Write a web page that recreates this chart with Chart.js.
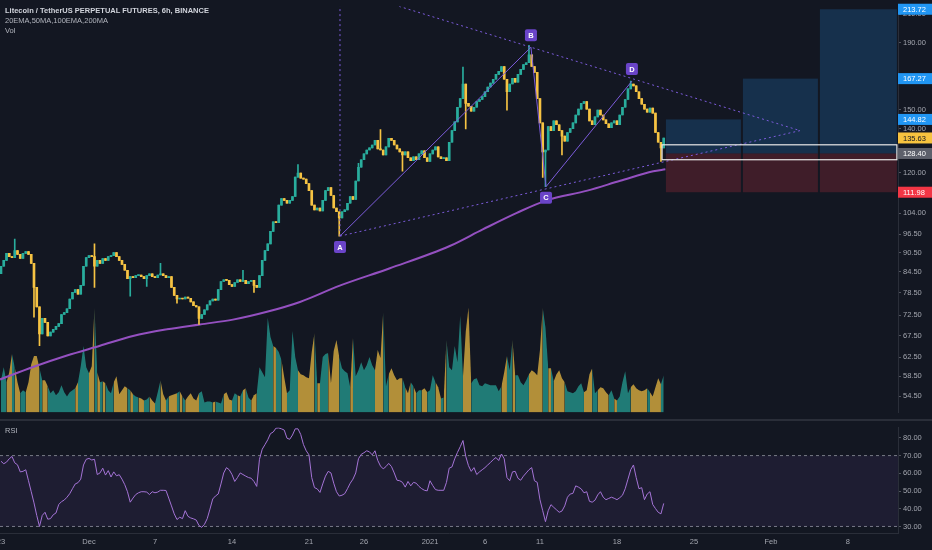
<!DOCTYPE html>
<html>
<head>
<meta charset="utf-8">
<script src="https://cdn.jsdelivr.net/npm/chart.js@4.4.1/dist/chart.umd.min.js"></script>
<style>
html, body { margin: 0; padding: 0; background: #131722; }
#wrap { position: relative; width: 932px; height: 550px; overflow: hidden; background: #131722; font-family: "Liberation Sans", Arial, sans-serif; }
#main { position: absolute; left: 0; top: 0; }
#rsi { position: absolute; left: 0; top: 421px; }
.sep { position: absolute; left: 0; top: 419px; width: 932px; height: 2px; background: #2a2e39; }
.lbl { position: absolute; left: 5px; font-size: 7.5px; line-height: 9px; color: #b2b5be; white-space: nowrap; }
</style>
</head>
<body>
<div id="wrap">
  <canvas id="main" width="932" height="419"></canvas>
  <div class="sep"></div>
  <canvas id="rsi" width="932" height="129"></canvas>
  <div class="lbl" style="top:5.5px;font-weight:bold;color:#d1d4dc">Litecoin / TetherUS PERPETUAL FUTURES, 6h, BINANCE</div>
  <div class="lbl" style="top:15.5px">20EMA,50MA,100EMA,200MA</div>
  <div class="lbl" style="top:25.5px">Vol</div>
  <div class="lbl" style="top:425.5px">RSI</div>
</div>
<script>
// x axis is in days since Nov 23, one candle every 6h
const tickDays = [0, 8, 14, 21, 28, 33, 39, 44, 49, 56, 63, 70, 77];
const tickLabels = ['23', 'Dec', '7', '14', '21', '26', '2021', '6', '11', '18', '25', 'Feb', '8'];
const priceTicks = [54.5, 58.5, 62.5, 67.5, 72.5, 78.5, 84.5, 90.5, 96.5, 104, 120, 140, 150, 190, 210];
const rsiTicks = [30, 40, 50, 60, 70, 80];

const firstOpen = 84.0;
const closes = [
  86.2, 88.0, 90.2, 89.2, 88.9, 91.1, 89.9, 88.6, 90.2, 90.8,
  89.9, 87.1, 80.0, 74.7, 67.9, 71.7, 70.7, 67.4, 68.3, 69.0,
  69.7, 70.4, 72.7, 73.2, 74.2, 76.8, 78.6, 79.4, 78.1, 80.6,
  86.2, 88.9, 89.5, 89.2, 86.2, 88.0, 87.1, 88.6, 88.0, 89.2,
  89.5, 90.5, 89.2, 88.0, 86.8, 85.0, 82.5, 83.1, 82.8, 83.4,
  83.6, 83.1, 82.5, 83.4, 83.9, 83.1, 82.8, 83.6, 83.9, 83.4,
  82.8, 83.1, 80.0, 77.8, 76.8, 77.0, 76.8, 77.3, 77.0, 76.0,
  75.0, 74.7, 71.7, 72.7, 73.9, 75.2, 76.3, 76.8, 76.5, 79.4,
  81.7, 82.2, 82.0, 80.8, 80.3, 81.4, 82.2, 81.7, 82.0, 81.1,
  81.7, 82.0, 80.6, 80.0, 83.4, 88.0, 91.1, 93.3, 97.5, 100.9,
  100.6, 107.0, 109.5, 108.8, 107.7, 108.8, 110.3, 118.1, 119.8, 117.7,
  117.3, 115.4, 112.6, 107.0, 105.2, 105.9, 104.8, 108.8, 112.6, 113.8,
  110.7, 105.9, 104.5, 102.3, 104.5, 105.2, 107.7, 110.3, 109.2, 116.5,
  122.3, 125.6, 128.2, 130.0, 131.0, 132.3, 134.5, 130.5, 130.0, 127.8,
  131.4, 135.5, 134.5, 132.3, 130.5, 129.1, 127.8, 129.1, 126.5, 125.2,
  126.9, 125.6, 128.2, 129.6, 126.5, 124.8, 128.2, 130.0, 131.4, 126.9,
  126.1, 126.5, 125.2, 133.6, 139.2, 143.6, 151.2, 155.9, 164.1, 153.3,
  151.7, 149.1, 151.2, 154.3, 155.4, 157.0, 159.7, 162.4, 164.6, 166.9,
  169.8, 171.6, 174.6, 166.9, 159.7, 164.1, 167.5, 165.2, 169.8, 172.8,
  175.7, 176.9, 181.9, 174.6, 171.0, 155.9, 143.1, 129.1, 130.0, 141.2,
  139.2, 144.1, 142.1, 139.2, 136.5, 134.1, 138.3, 140.2, 143.1, 147.1,
  150.2, 153.3, 154.3, 150.2, 144.1, 142.1, 146.1, 149.7, 147.1, 144.6,
  142.6, 140.7, 143.1, 144.1, 142.1, 147.1, 151.2, 155.4, 161.3, 164.1,
  163.0, 159.7, 155.9, 152.8, 150.2, 148.6, 150.7, 148.1, 138.3, 133.6,
  130.9, 135.6
];
// long wicks only, other candles have no visible shadow
const highWickIdx = [5, 34, 58, 88, 108, 130, 138, 168, 192, 229];
const highWickVal = [94.9, 93.3, 87.1, 85.0, 123.5, 124.0, 139.7, 174.3, 188.2, 165.8];
const lowWickIdx = [12, 14, 34, 47, 53, 64, 72, 92, 123, 146, 169, 184, 197, 198, 204, 240];
const lowWickVal = [72.0, 65.1, 80.0, 77.6, 80.3, 75.7, 70.2, 78.6, 95.9, 120.6, 140.0, 149.6, 118.0, 114.2, 127.8, 124.8];

const volumes = [
  32, 45, 30, 40, 58, 45, 30, 19, 22, 20,
  30, 48, 56, 56, 44, 32, 32, 26, 19, 22,
  17, 20, 27, 20, 16, 20, 22, 24, 30, 46,
  66, 45, 39, 46, 104, 40, 30, 31, 29, 22,
  19, 30, 36, 18, 22, 26, 24, 22, 18, 16,
  15, 14, 12, 13, 16, 12, 9, 20, 32, 18,
  12, 16, 17, 18, 19, 21, 16, 12, 16, 19,
  14, 12, 19, 21, 10, 11, 11, 10, 11, 10,
  9, 18, 20, 13, 12, 19, 17, 16, 22, 24,
  15, 12, 17, 19, 45, 40, 35, 94, 75, 66,
  64, 60, 52, 35, 19, 22, 81, 55, 42, 38,
  37, 35, 34, 60, 79, 29, 29, 55, 58, 59,
  29, 61, 72, 55, 44, 41, 39, 25, 74, 36,
  42, 50, 42, 47, 55, 47, 42, 62, 54, 100,
  26, 38, 44, 37, 32, 34, 34, 25, 19, 30,
  26, 19, 22, 22, 24, 20, 22, 37, 30, 25,
  14, 15, 72, 45, 42, 66, 50, 96, 36, 80,
  104, 29, 33, 34, 27, 26, 29, 28, 27, 27,
  27, 21, 26, 40, 56, 42, 72, 37, 37, 30,
  27, 32, 38, 42, 40, 37, 62, 104, 84, 44,
  44, 31, 38, 42, 34, 30, 21, 20, 19, 21,
  26, 29, 20, 22, 38, 44, 19, 22, 25, 24,
  20, 17, 22, 14, 12, 16, 30, 41, 19, 25,
  28, 24, 22, 21, 22, 24, 20, 16, 25, 34,
  28, 37
];

const rsiValues = [
  66.8, 65.4, 66.3, 68.2, 69.5, 65.9, 64.8, 60.8, 61.1, 62.0,
  55.8, 49.6, 43.3, 36.2, 30.0, 36.2, 38.0, 34.1, 34.4, 36.6,
  37.6, 42.4, 44.0, 44.9, 46.5, 48.5, 51.3, 54.0, 54.7, 56.7,
  64.7, 67.9, 68.4, 67.5, 67.9, 59.3, 60.2, 62.9, 59.0, 61.5,
  57.9, 60.8, 58.6, 59.2, 56.7, 53.6, 49.6, 43.7, 46.0, 48.0,
  49.0, 49.6, 49.6, 49.4, 48.0, 49.6, 49.0, 49.4, 50.4, 50.4,
  50.3, 46.0, 41.6, 37.1, 33.9, 35.2, 34.4, 38.9, 35.7, 34.8,
  34.3, 33.6, 30.5, 29.5, 31.2, 34.4, 39.8, 45.5, 47.2, 48.3,
  54.0, 60.2, 63.2, 62.0, 59.3, 55.4, 57.6, 60.2, 59.3, 58.4,
  57.6, 57.2, 55.4, 52.6, 67.9, 73.6, 76.2, 78.9, 82.4, 83.3,
  85.5, 85.6, 85.1, 84.4, 79.8, 79.2, 81.6, 85.1, 85.1, 81.9,
  76.2, 72.7, 70.4, 57.6, 51.9, 51.2, 49.2, 54.0, 58.4, 61.1,
  60.2, 54.4, 49.6, 47.2, 47.6, 48.5, 51.3, 54.4, 56.7, 60.2,
  68.2, 70.7, 71.6, 72.7, 72.1, 70.4, 72.7, 67.3, 64.1, 62.5,
  63.8, 65.6, 63.8, 60.2, 56.1, 55.8, 54.9, 52.2, 55.4, 52.9,
  54.9, 54.4, 52.6, 51.3, 50.4, 50.1, 55.8, 53.1, 50.8, 50.4,
  50.4, 50.4, 54.9, 62.9, 63.6, 68.2, 71.8, 75.0, 78.5, 69.6,
  64.3, 61.1, 63.2, 59.3, 60.8, 62.0, 63.2, 64.7, 66.1, 67.7,
  68.9, 67.2, 70.9, 68.2, 57.6, 55.8, 60.8, 61.1, 57.2, 56.1,
  58.4, 60.2, 62.0, 63.2, 55.8, 54.9, 45.1, 38.9, 32.7, 38.9,
  42.3, 40.8, 39.4, 38.0, 38.7, 41.6, 46.5, 48.3, 48.7, 52.9,
  52.2, 51.2, 49.0, 49.6, 44.2, 43.7, 44.8, 47.8, 49.6, 46.5,
  45.1, 45.8, 46.5, 45.9, 45.1, 46.2, 47.6, 51.3, 56.7, 62.0,
  64.7, 57.6, 51.3, 51.9, 45.1, 48.3, 49.6, 42.4, 40.1, 38.0,
  37.1, 43.0
];

// 200MA
const maDays = [-0.09, 2.91, 6.0, 9.0, 12.0, 15.09, 18.09, 21.09, 24.18, 27.18, 30.8, 35.36, 40.8, 43.8, 46.9, 49.6, 53.3, 56.3, 59.3, 60.4];
const maValues = [57.8, 60.4, 62.9, 65.1, 67.4, 69.0, 70.2, 71.4, 73.4, 76.0, 80.5, 85.6, 92.6, 98.2, 104.1, 108.8, 112.6, 116.6, 120.6, 121.4];

// ABCD pattern and triangle
const patternNames = ['A', 'B', 'C', 'D'];
const patternDays = [30.82, 48.18, 49.55, 57.36];
const patternPrices = [95.9, 186.9, 114.2, 165.8];
const patternBelow = [true, false, true, false];
const upperLineDays = [34.45, 72.64];
const upperLinePrices = [220.5, 139.2];
const lowerLineDays = [30.82, 72.64];
const lowerLinePrices = [95.9, 139.2];
const vertLineDays = [30.82, 30.82];
const vertLinePrices = [95.9, 240];

// position boxes
const entryPrice = 128.40;
const stopPrice = 111.98;
const targetPrices = [144.82, 167.27, 213.72];
const boxStartDays = [60.45, 67.45, 74.45];
const boxEndDays = [67.27, 74.27, 81.45];
const zoneDays = [60.1, 81.45];
const zonePrices = [132.4, 125.6];

const tagValues = [213.72, 167.27, 144.82, 135.63, 128.40, 111.98];
const tagColors = ['#2196f3', '#2196f3', '#2196f3', '#f7c33f', '#5d606b', '#f23645'];
const tagText = ['#ffffff', '#ffffff', '#ffffff', '#131722', '#ffffff', '#ffffff'];

const xMin = -0.09, xMax = 81.55;
const upColor = '#29ad9d', downColor = '#f6c343';
const volUp = 'rgba(38,166,154,0.7)', volDown = 'rgba(246,195,67,0.7)';
const lineColor = '#7c5cdb';
const FONT = '"Liberation Sans", Arial, sans-serif';

Chart.defaults.font.family = FONT;
Chart.defaults.font.size = 7.5;
Chart.defaults.color = '#a3a6af';

const days = closes.map((c, i) => i / 4);
const opens = closes.map((c, i) => i === 0 ? firstOpen : closes[i - 1]);
const highs = closes.map((c, i) => {
  const j = highWickIdx.indexOf(i);
  return j >= 0 ? highWickVal[j] : Math.max(opens[i], c);
});
const lows = closes.map((c, i) => {
  const j = lowWickIdx.indexOf(i);
  return j >= 0 ? lowWickVal[j] : Math.min(opens[i], c);
});
const isUp = closes.map((c, i) => c >= opens[i]);
const candleColors = isUp.map(u => u ? upColor : downColor);
const pts = (xs, ys) => xs.map((v, i) => ({ x: v, y: ys[i] }));

const overlay = {
  id: 'overlay',
  beforeDatasetsDraw(chart) {
    const { ctx, chartArea: a, scales: { x, y } } = chart;
    ctx.save();
    ctx.beginPath();
    ctx.rect(a.left, a.top, a.right - a.left, a.bottom - a.top);
    ctx.clip();
    const yE = y.getPixelForValue(entryPrice), yS = y.getPixelForValue(stopPrice);
    boxStartDays.forEach((d, i) => {
      const x0 = x.getPixelForValue(d), x1 = x.getPixelForValue(boxEndDays[i]);
      const yT = y.getPixelForValue(targetPrices[i]);
      ctx.fillStyle = 'rgba(33,150,243,0.2)';
      ctx.fillRect(x0, yT, x1 - x0, yE - yT);
      ctx.fillStyle = 'rgba(242,54,69,0.2)';
      ctx.fillRect(x0, yE, x1 - x0, yS - yE);
    });
    ctx.restore();
  },
  afterDatasetsDraw(chart) {
    const { ctx, chartArea: a, scales: { x, y } } = chart;
    ctx.save();
    ctx.beginPath();
    ctx.rect(a.left, a.top, a.right - a.left, a.bottom - a.top);
    ctx.clip();
    // white zone around the entry
    const zx0 = x.getPixelForValue(zoneDays[0]), zx1 = x.getPixelForValue(zoneDays[1]);
    const zy0 = y.getPixelForValue(zonePrices[0]), zy1 = y.getPixelForValue(zonePrices[1]);
    ctx.strokeStyle = '#e8e8e8';
    ctx.lineWidth = 1.2;
    ctx.strokeRect(zx0, zy0, zx1 - zx0, zy1 - zy0);
    // pattern point labels
    ctx.font = 'bold 7.5px ' + FONT;
    ctx.textAlign = 'center';
    ctx.textBaseline = 'middle';
    patternNames.forEach((n, i) => {
      const px = x.getPixelForValue(patternDays[i]);
      const py = y.getPixelForValue(patternPrices[i]) + (patternBelow[i] ? 11 : -12);
      ctx.fillStyle = '#6a44c8';
      ctx.beginPath();
      ctx.roundRect(px - 6, py - 6, 12, 12, 2);
      ctx.fill();
      ctx.fillStyle = '#ffffff';
      ctx.fillText(n, px, py + 0.5);
    });
    ctx.restore();
  },
  afterDraw(chart) {
    const { ctx, chartArea: a, scales: { y } } = chart;
    ctx.save();
    ctx.font = '7.5px ' + FONT;
    ctx.textBaseline = 'middle';
    ctx.textAlign = 'left';
    tagValues.forEach((v, i) => {
      const py = y.getPixelForValue(v);
      ctx.fillStyle = tagColors[i];
      ctx.fillRect(a.right, py - 5.5, 34, 11);
      ctx.fillStyle = tagText[i];
      ctx.fillText(v.toFixed(2), a.right + 5, py + 0.5);
    });
    ctx.restore();
  }
};

const rightAxis = (min, max, ticks, extra) => Object.assign({
  position: 'right',
  min, max,
  afterBuildTicks: s => { s.ticks = ticks.map(v => ({ value: v })); },
  afterFit: s => { s.width = 34; },
  ticks: { autoSkip: false, padding: 2, callback: v => Number(v).toFixed(2), color: '#a3a6af' },
  grid: { drawOnChartArea: false, drawTicks: true, tickLength: 3, color: '#50535e' },
  border: { color: '#2a2e39' }
}, extra);

new Chart(document.getElementById('main'), {
  type: 'line',
  data: {
    datasets: [
      { type: 'line', yAxisID: 'yv', data: pts(days, volumes), fill: 'origin', borderWidth: 0, pointRadius: 0,
        backgroundColor: volUp, segment: { backgroundColor: c => isUp[c.p1DataIndex] ? volUp : volDown }, order: 10 },
      { type: 'line', yAxisID: 'y', data: pts(maDays, maValues), borderColor: '#9450c0', borderWidth: 2,
        pointRadius: 0, cubicInterpolationMode: 'monotone', order: 8 },
      { type: 'bar', yAxisID: 'y', data: days.map((d, i) => ({ x: d, y: [lows[i], highs[i]] })),
        backgroundColor: candleColors, barThickness: 1, grouped: false, order: 6 },
      { type: 'bar', yAxisID: 'y', data: days.map((d, i) => ({ x: d, y: [opens[i], closes[i]] })),
        backgroundColor: candleColors, barThickness: 2, minBarLength: 1, grouped: false, order: 5 },
      { type: 'line', yAxisID: 'y', data: pts(patternDays, patternPrices), borderColor: lineColor, borderWidth: 1, pointRadius: 0, order: 2 },
      { type: 'line', yAxisID: 'y', data: pts(upperLineDays, upperLinePrices), borderColor: lineColor, borderWidth: 1, borderDash: [2, 3], pointRadius: 0, order: 2 },
      { type: 'line', yAxisID: 'y', data: pts(lowerLineDays, lowerLinePrices), borderColor: lineColor, borderWidth: 1, borderDash: [2, 3], pointRadius: 0, order: 2 },
      { type: 'line', yAxisID: 'y', data: pts(vertLineDays, vertLinePrices), borderColor: lineColor, borderWidth: 1, borderDash: [2, 3], pointRadius: 0, order: 2 }
    ]
  },
  options: {
    responsive: false,
    animation: false,
    events: [],
    layout: { padding: 0 },
    plugins: { legend: { display: false }, tooltip: { enabled: false } },
    scales: {
      x: { type: 'linear', min: xMin, max: xMax, offset: false, display: false },
      y: rightAxis(51.43, 215.8, priceTicks, { type: 'logarithmic' }),
      yv: { type: 'linear', min: 0, max: 403, display: false }
    }
  },
  plugins: [overlay]
});

new Chart(document.getElementById('rsi'), {
  type: 'line',
  data: {
    datasets: [
      { data: pts([xMin, xMax], [70, 70]), borderColor: '#787b86', borderWidth: 1, borderDash: [3, 3], pointRadius: 0,
        fill: '+1', backgroundColor: 'rgba(126,87,194,0.1)', order: 5 },
      { data: pts([xMin, xMax], [30, 30]), borderColor: '#787b86', borderWidth: 1, borderDash: [3, 3], pointRadius: 0, fill: false, order: 5 },
      { data: pts(days, rsiValues), borderColor: '#a574d6', borderWidth: 1, pointRadius: 0, fill: false, order: 1 }
    ]
  },
  options: {
    responsive: false,
    animation: false,
    events: [],
    layout: { padding: 0 },
    plugins: { legend: { display: false }, tooltip: { enabled: false } },
    scales: {
      x: {
        type: 'linear', min: xMin, max: xMax, offset: false,
        afterBuildTicks: s => { s.ticks = tickDays.map(v => ({ value: v })); },
        afterFit: s => { s.height = 17; s.paddingLeft = 0; s.paddingRight = 0; },
        ticks: { autoSkip: false, maxRotation: 0, padding: 4, color: '#a3a6af',
          callback: v => tickLabels[tickDays.indexOf(v)] },
        grid: { display: false, drawTicks: false },
        border: { color: '#2a2e39' }
      },
      y: rightAxis(26.3, 85.85, rsiTicks, { type: 'linear' })
    }
  }
});
</script>
</body>
</html>
